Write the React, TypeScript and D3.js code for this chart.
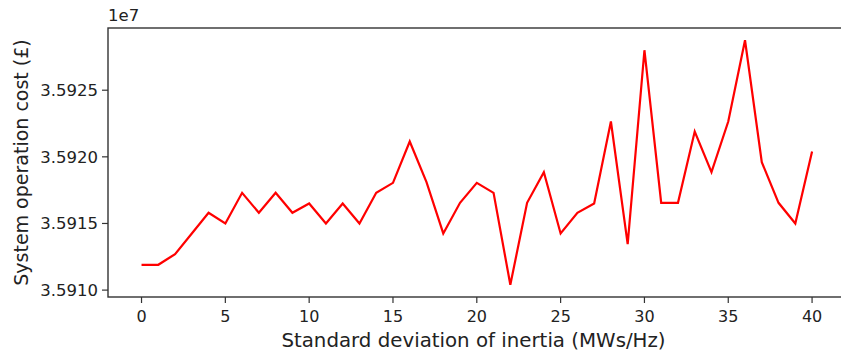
import React from 'react';
import * as d3 from 'd3';

// std dev of inertia (MWs/Hz)
const inertiaStd = d3.range(0, 41);
// system operation cost (£)
const cost = [
  35911900, 35911900, 35912700, 35914250, 35915800, 35915000, 35917300, 35915800,
  35917300, 35915800, 35916500, 35915000, 35916500, 35915000, 35917300, 35918050,
  35921150, 35918100, 35914250, 35916550, 35918050, 35917300, 35910400, 35916550,
  35918850, 35914250, 35915800, 35916500, 35922650, 35913450, 35928000, 35916550,
  35916550, 35921900, 35918850, 35922650, 35928750, 35919600, 35916550, 35915000,
  35920400,
];
const xTicks = [0, 5, 10, 15, 20, 25, 30, 35, 40];
const yTicks = [35910000, 35915000, 35920000, 35925000];

const App = () => {
  const width = 841, height = 353;
  const margin = {left: 108, top: 28, right: -4.6, bottom: 56};
  const w = width - margin.left - margin.right;
  const h = height - margin.top - margin.bottom;

  const xExt = d3.extent(inertiaStd) as [number, number];
  const yExt = d3.extent(cost) as [number, number];
  const xPad = (xExt[1] - xExt[0]) * 0.05;
  const yPad = (yExt[1] - yExt[0]) * 0.05;

  const x = d3.scaleLinear().domain([xExt[0] - xPad, xExt[1] + xPad]).range([0, w]);
  const y = d3.scaleLinear().domain([yExt[0] - yPad, yExt[1] + yPad]).range([h, 0]);

  const line = d3.line<number>()
    .x((d, i) => x(inertiaStd[i]))
    .y(d => y(d));

  const font = 'DejaVu Sans, sans-serif';
  const axisCol = '#333';

  return (
    <div style={{position: 'fixed', left: 0, top: 0}}>
      <svg width={width} height={height} style={{display: 'block', background: '#fff'}}>
        <g transform={'translate(' + margin.left + ',' + margin.top + ')'}>
          <path d={line(cost) || ''} fill="none" stroke="#ff0000" strokeWidth={2.2} strokeLinejoin="miter" />
          <rect x={0} y={0} width={w} height={h} fill="none" stroke={axisCol} strokeWidth={1.4} />
          {xTicks.map(t => (
            <g key={t} transform={'translate(' + x(t) + ',' + h + ')'}>
              <line y2={6} stroke={axisCol} strokeWidth={1.2} />
              <text y={24.5} textAnchor="middle" fontSize={16} fontFamily={font} fill="#222">{t}</text>
            </g>
          ))}
          {yTicks.map(t => (
            <g key={t} transform={'translate(0,' + y(t) + ')'}>
              <line x2={-6} stroke={axisCol} strokeWidth={1.2} />
              <text x={-10} dy="0.35em" textAnchor="end" fontSize={16.5} fontFamily={font} fill="#222">
                {(t / 1e7).toFixed(4)}
              </text>
            </g>
          ))}
          <text x={0} y={-7} fontSize={16.5} fontFamily={font} fill="#222">1e7</text>
          <text x={(width - margin.left) / 2 - 1} y={h + 50} textAnchor="middle" fontSize={19.8} fontFamily={font} fill="#222">
            Standard deviation of inertia (MWs/Hz)
          </text>
          <text transform={'translate(' + (-80) + ',' + h / 2 + ') rotate(-90)'} textAnchor="middle" fontSize={19} fontFamily={font} fill="#222">
            System operation cost (£)
          </text>
        </g>
      </svg>
    </div>
  );
};

export default App;
